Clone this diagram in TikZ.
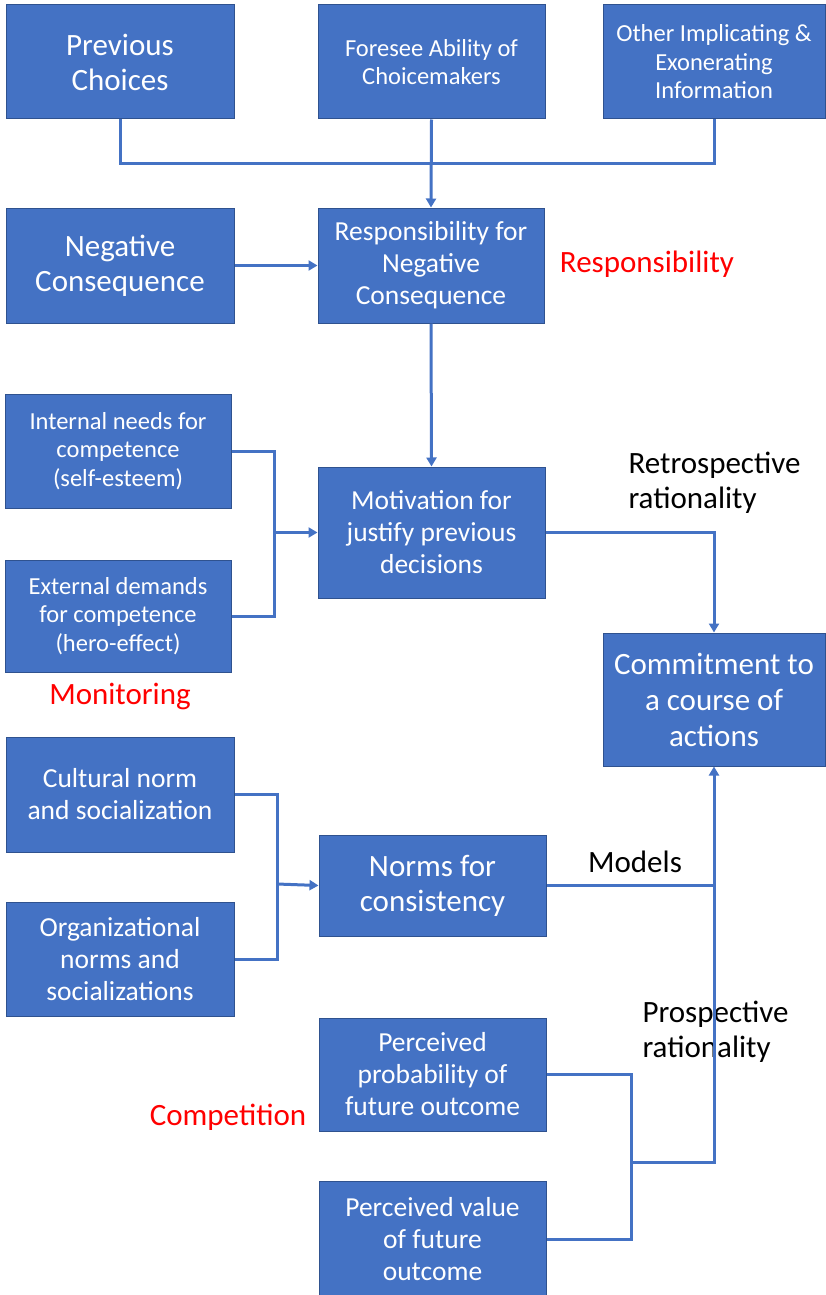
\documentclass[tikz,border=0pt]{standalone}
\usepackage{fontspec}
\setmainfont{Carlito}
\usepackage{tikz}
\usetikzlibrary{arrows.meta,positioning}
\definecolor{boxblue}{HTML}{4472C4}
\definecolor{boxedge}{HTML}{2F528F}

\begin{document}
\begin{tikzpicture}[x=1pt, y=-1pt,
  box/.style={rectangle, draw=boxedge, fill=boxblue, line width=1pt,
              text=white, align=center, inner sep=2pt},
  big/.style={font=\fontsize{31}{35}\selectfont},
  mid/.style={font=\fontsize{27.5}{32}\selectfont},
  small/.style={font=\fontsize{24.5}{28.5}\selectfont},
  line/.style={draw=boxblue, line width=3pt},
  arr/.style={line, -{Triangle[length=9pt, width=10pt]}},
  tag/.style={text=red, font=\fontsize{31}{34}\selectfont},
  note/.style={align=left, font=\fontsize{31}{35}\selectfont}
]
\useasboundingbox (0,0) rectangle (825,1295);

%% ── Nodes ──────────────────────────────────────────────────────
\node[box, big, minimum width=228pt, minimum height=114pt] (prev) at (120,62)
  {Previous\\Choices};
\node[box, small, minimum width=227pt, minimum height=114pt] (foresee) at (431.5,62)
  {Foresee Ability of\\Choicemakers};
\node[box, small, minimum width=222pt, minimum height=114pt] (other) at (714,62)
  {Other Implicating \&\\Exonerating\\Information};

\node[box, big, minimum width=228pt, minimum height=115pt] (negcons) at (120,265.5)
  {Negative\\Consequence};
\node[box, mid, minimum width=226pt, minimum height=115pt] (resp) at (431,265.5)
  {Responsibility for\\Negative\\Consequence};

\node[box, small, minimum width=226pt, minimum height=114pt] (internal) at (118,451)
  {Internal needs for\\competence\\(self-esteem)};
\node[box, mid, minimum width=227pt, minimum height=131pt] (motiv) at (431.5,532.5)
  {Motivation for\\justify previous\\decisions};
\node[box, small, minimum width=226pt, minimum height=112pt] (external) at (118,616)
  {External demands\\for competence\\(hero-effect)};

\node[box, font=\fontsize{31}{36}\selectfont, minimum width=222pt, minimum height=133pt]
  (commit) at (714,699.5) {Commitment to\\a course of\\actions};

\node[box, mid, minimum width=228pt, minimum height=115pt] (cultural) at (120,794.5)
  {Cultural norm\\and socialization};
\node[box, mid, minimum width=228pt, minimum height=114pt] (orgnorm) at (120,959)
  {Organizational\\norms and\\socializations};
\node[box, big, minimum width=227pt, minimum height=101pt] (norms) at (432.5,885.5)
  {Norms for\\consistency};

\node[box, mid, minimum width=227pt, minimum height=113pt] (perprob) at (432.5,1074.5)
  {Perceived\\probability of\\future outcome};
\node[box, mid, minimum width=227pt, minimum height=116pt] (perval) at (432.5,1239)
  {Perceived value\\of future\\outcome};

%% ── Labels ─────────────────────────────────────────────────────
\node[tag] (resptag) at (647,264) {Responsibility};
\node[tag] (montag) at (120,696) {Monitoring};
\node[tag] (comptag) at (228,1117) {Competition};
\node[note, anchor=west] (retro) at (625,483) {Retrospective\\rationality};
\node[note] (models) at (635,862) {Models};
\node[note, anchor=west] (prosp) at (639,1032) {Prospective\\rationality};

%% ── Arrows ─────────────────────────────────────────────────────
\coordinate (topj) at (431.5,163);
\coordinate (monj) at (274,532.5);
\coordinate (normj) at (277,884);
\coordinate (compj) at (631,1162);

\draw[line] (prev.south) |- (topj) -| (other.south);
\draw[arr]  (foresee.south) -- (resp.north);
\draw[arr]  (negcons.east) -- (resp.west);
\draw[arr]  (resp.south) -- (motiv.north);

\draw[line] (internal.east) -| (monj) |- (external.east);
\draw[arr]  (monj) -- (motiv.west);
\draw[arr]  (motiv.east) -| (commit.north);

\draw[line] (cultural.east) -| (normj) |- (orgnorm.east);
\draw[arr]  (normj) -- (norms.west);
\draw[line] (norms.east) -- (norms.east -| commit.south);

\draw[line] (perprob.east) -| (compj) |- (perval.east);
\draw[arr]  (compj) -| (commit.south);

\end{tikzpicture}
\end{document}
